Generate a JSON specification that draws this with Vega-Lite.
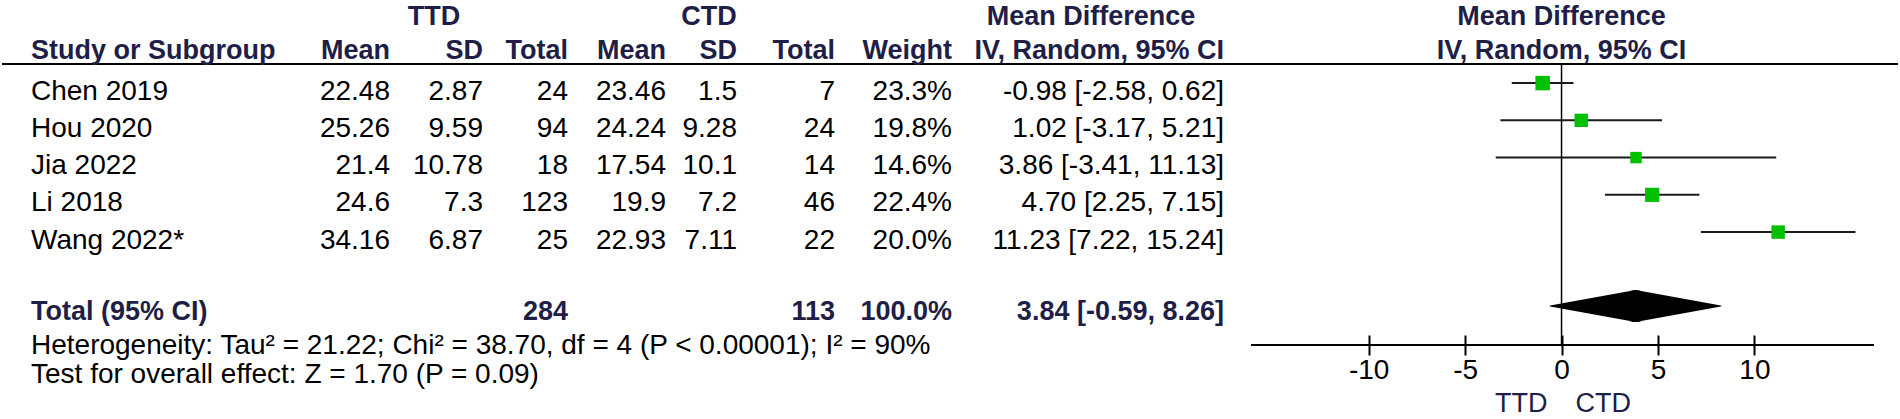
{
"$schema":"https://vega.github.io/schema/vega-lite/v6.json",
"width":1900,"height":345,
"autosize":{"type":"none"},
"padding":{"left":0,"top":0,"right":0,"bottom":74},
"background":"white",
"config":{"view":{"stroke":null},"font":"Liberation Sans","text":{"fontSize":28,"color":"#000"}},
"datasets":{
"studies":[
{"study":"Chen 2019","row":1,"tm":22.48,"tsd":2.87,"tn":24,"cm":23.46,"csd":1.5,"cn":7,"w":0.233,"md":-0.98,"lo":-2.58,"hi":0.62,"ci":"-0.98 [-2.58, 0.62]"},
{"study":"Hou 2020","row":2,"tm":25.26,"tsd":9.59,"tn":94,"cm":24.24,"csd":9.28,"cn":24,"w":0.198,"md":1.02,"lo":-3.17,"hi":5.21,"ci":"1.02 [-3.17, 5.21]"},
{"study":"Jia 2022","row":3,"tm":21.4,"tsd":10.78,"tn":18,"cm":17.54,"csd":10.1,"cn":14,"w":0.146,"md":3.86,"lo":-3.41,"hi":11.13,"ci":"3.86 [-3.41, 11.13]"},
{"study":"Li 2018","row":4,"tm":24.6,"tsd":7.3,"tn":123,"cm":19.9,"csd":7.2,"cn":46,"w":0.224,"md":4.70,"lo":2.25,"hi":7.15,"ci":"4.70 [2.25, 7.15]"},
{"study":"Wang 2022*","row":5,"tm":34.16,"tsd":6.87,"tn":25,"cm":22.93,"csd":7.11,"cn":22,"w":0.200,"md":11.23,"lo":7.22,"hi":15.24,"ci":"11.23 [7.22, 15.24]"}
],
"total":[{"label":"Total (95% CI)","row":7,"tn":284,"cn":113,"w":1.0,"md":3.84,"lo":-0.59,"hi":8.26,"ci":"3.84 [-0.59, 8.26]"}],
"colheads":[{"h":"Mean","col":2},{"h":"SD","col":3},{"h":"Total","col":4},{"h":"Mean","col":5},{"h":"SD","col":6},{"h":"Total","col":7},{"h":"Weight","col":8},{"h":"IV, Random, 95% CI","col":9}],
"groupheads":[{"h":"TTD","col":2.5},{"h":"CTD","col":5.5},{"h":"Mean Difference","col":8.5}]
},
"layer":[
{"layer":[
{"data":{"name":"total"},"mark":{"type":"rule","color":"#000","strokeWidth":2},"encoding":{"x":{"datum":0,"type":"quantitative","scale":{"type":"linear","domain":[0,1,2,2.5,3,4,5,5.5,6,7,8,8.5,9,10],"range":[2,31,390,434,483,568,666,709,737,835,952,1091,1224,1898],"zero":false,"nice":false},"axis":null},"x2":{"datum":10},"y":{"datum":0.259,"type":"quantitative","scale":{"domain":[-1.459,7.803],"reverse":true,"zero":false,"nice":false},"axis":null}}},
{"data":{"name":"groupheads"},"mark":{"type":"text","align":"center","fontWeight":"bold","fontSize":27,"color":"#1e1e46"},"encoding":{"x":{"field":"col","type":"quantitative","scale":{"type":"linear","domain":[0,1,2,2.5,3,4,5,5.5,6,7,8,8.5,9,10],"range":[2,31,390,434,483,568,666,709,737,835,952,1091,1224,1898],"zero":false,"nice":false},"axis":null},"y":{"datum":-1,"type":"quantitative","scale":{"domain":[-1.459,7.803],"reverse":true,"zero":false,"nice":false},"axis":null},"text":{"field":"h"}}},
{"data":{"name":"colheads"},"mark":{"type":"text","align":"right","fontWeight":"bold","fontSize":27,"color":"#1e1e46","dy":-3},"encoding":{"x":{"field":"col","type":"quantitative","scale":{"type":"linear","domain":[0,1,2,2.5,3,4,5,5.5,6,7,8,8.5,9,10],"range":[2,31,390,434,483,568,666,709,737,835,952,1091,1224,1898],"zero":false,"nice":false},"axis":null},"y":{"datum":0,"type":"quantitative","scale":{"domain":[-1.459,7.803],"reverse":true,"zero":false,"nice":false},"axis":null},"text":{"field":"h"}}},
{"data":{"name":"total"},"mark":{"type":"text","align":"left","fontWeight":"bold","fontSize":27,"color":"#1e1e46","dy":-3},"encoding":{"x":{"datum":1,"type":"quantitative","scale":{"type":"linear","domain":[0,1,2,2.5,3,4,5,5.5,6,7,8,8.5,9,10],"range":[2,31,390,434,483,568,666,709,737,835,952,1091,1224,1898],"zero":false,"nice":false},"axis":null},"y":{"datum":0,"type":"quantitative","scale":{"domain":[-1.459,7.803],"reverse":true,"zero":false,"nice":false},"axis":null},"text":{"value":"Study or Subgroup"}}},
{"data":{"name":"studies"},"mark":{"type":"text","align":"left"},"encoding":{"x":{"datum":1,"type":"quantitative","scale":{"type":"linear","domain":[0,1,2,2.5,3,4,5,5.5,6,7,8,8.5,9,10],"range":[2,31,390,434,483,568,666,709,737,835,952,1091,1224,1898],"zero":false,"nice":false},"axis":null},"y":{"field":"row","type":"quantitative","scale":{"domain":[-1.459,7.803],"reverse":true,"zero":false,"nice":false},"axis":null},"text":{"field":"study"}}},
{"data":{"name":"studies"},"mark":{"type":"text","align":"right"},"encoding":{"x":{"datum":2,"type":"quantitative","scale":{"type":"linear","domain":[0,1,2,2.5,3,4,5,5.5,6,7,8,8.5,9,10],"range":[2,31,390,434,483,568,666,709,737,835,952,1091,1224,1898],"zero":false,"nice":false},"axis":null},"y":{"field":"row","type":"quantitative","scale":{"domain":[-1.459,7.803],"reverse":true,"zero":false,"nice":false},"axis":null},"text":{"field":"tm","type":"nominal"}}},
{"data":{"name":"studies"},"mark":{"type":"text","align":"right"},"encoding":{"x":{"datum":3,"type":"quantitative","scale":{"type":"linear","domain":[0,1,2,2.5,3,4,5,5.5,6,7,8,8.5,9,10],"range":[2,31,390,434,483,568,666,709,737,835,952,1091,1224,1898],"zero":false,"nice":false},"axis":null},"y":{"field":"row","type":"quantitative","scale":{"domain":[-1.459,7.803],"reverse":true,"zero":false,"nice":false},"axis":null},"text":{"field":"tsd","type":"nominal"}}},
{"data":{"name":"studies"},"mark":{"type":"text","align":"right"},"encoding":{"x":{"datum":4,"type":"quantitative","scale":{"type":"linear","domain":[0,1,2,2.5,3,4,5,5.5,6,7,8,8.5,9,10],"range":[2,31,390,434,483,568,666,709,737,835,952,1091,1224,1898],"zero":false,"nice":false},"axis":null},"y":{"field":"row","type":"quantitative","scale":{"domain":[-1.459,7.803],"reverse":true,"zero":false,"nice":false},"axis":null},"text":{"field":"tn","type":"nominal"}}},
{"data":{"name":"studies"},"mark":{"type":"text","align":"right"},"encoding":{"x":{"datum":5,"type":"quantitative","scale":{"type":"linear","domain":[0,1,2,2.5,3,4,5,5.5,6,7,8,8.5,9,10],"range":[2,31,390,434,483,568,666,709,737,835,952,1091,1224,1898],"zero":false,"nice":false},"axis":null},"y":{"field":"row","type":"quantitative","scale":{"domain":[-1.459,7.803],"reverse":true,"zero":false,"nice":false},"axis":null},"text":{"field":"cm","type":"nominal"}}},
{"data":{"name":"studies"},"mark":{"type":"text","align":"right"},"encoding":{"x":{"datum":6,"type":"quantitative","scale":{"type":"linear","domain":[0,1,2,2.5,3,4,5,5.5,6,7,8,8.5,9,10],"range":[2,31,390,434,483,568,666,709,737,835,952,1091,1224,1898],"zero":false,"nice":false},"axis":null},"y":{"field":"row","type":"quantitative","scale":{"domain":[-1.459,7.803],"reverse":true,"zero":false,"nice":false},"axis":null},"text":{"field":"csd","type":"nominal"}}},
{"data":{"name":"studies"},"mark":{"type":"text","align":"right"},"encoding":{"x":{"datum":7,"type":"quantitative","scale":{"type":"linear","domain":[0,1,2,2.5,3,4,5,5.5,6,7,8,8.5,9,10],"range":[2,31,390,434,483,568,666,709,737,835,952,1091,1224,1898],"zero":false,"nice":false},"axis":null},"y":{"field":"row","type":"quantitative","scale":{"domain":[-1.459,7.803],"reverse":true,"zero":false,"nice":false},"axis":null},"text":{"field":"cn","type":"nominal"}}},
{"data":{"name":"studies"},"mark":{"type":"text","align":"right"},"encoding":{"x":{"datum":8,"type":"quantitative","scale":{"type":"linear","domain":[0,1,2,2.5,3,4,5,5.5,6,7,8,8.5,9,10],"range":[2,31,390,434,483,568,666,709,737,835,952,1091,1224,1898],"zero":false,"nice":false},"axis":null},"y":{"field":"row","type":"quantitative","scale":{"domain":[-1.459,7.803],"reverse":true,"zero":false,"nice":false},"axis":null},"text":{"field":"w","type":"quantitative","format":".1%"}}},
{"data":{"name":"studies"},"mark":{"type":"text","align":"right"},"encoding":{"x":{"datum":9,"type":"quantitative","scale":{"type":"linear","domain":[0,1,2,2.5,3,4,5,5.5,6,7,8,8.5,9,10],"range":[2,31,390,434,483,568,666,709,737,835,952,1091,1224,1898],"zero":false,"nice":false},"axis":null},"y":{"field":"row","type":"quantitative","scale":{"domain":[-1.459,7.803],"reverse":true,"zero":false,"nice":false},"axis":null},"text":{"field":"ci"}}},
{"data":{"name":"total"},"mark":{"type":"text","align":"left","fontWeight":"bold","fontSize":27,"color":"#1e1e46","dy":-3},"encoding":{"x":{"datum":1,"type":"quantitative","scale":{"type":"linear","domain":[0,1,2,2.5,3,4,5,5.5,6,7,8,8.5,9,10],"range":[2,31,390,434,483,568,666,709,737,835,952,1091,1224,1898],"zero":false,"nice":false},"axis":null},"y":{"field":"row","type":"quantitative","scale":{"domain":[-1.459,7.803],"reverse":true,"zero":false,"nice":false},"axis":null},"text":{"field":"label"}}},
{"data":{"name":"total"},"mark":{"type":"text","align":"right","fontWeight":"bold","fontSize":27,"color":"#1e1e46","dy":-3},"encoding":{"x":{"datum":4,"type":"quantitative","scale":{"type":"linear","domain":[0,1,2,2.5,3,4,5,5.5,6,7,8,8.5,9,10],"range":[2,31,390,434,483,568,666,709,737,835,952,1091,1224,1898],"zero":false,"nice":false},"axis":null},"y":{"field":"row","type":"quantitative","scale":{"domain":[-1.459,7.803],"reverse":true,"zero":false,"nice":false},"axis":null},"text":{"field":"tn","type":"nominal"}}},
{"data":{"name":"total"},"mark":{"type":"text","align":"right","fontWeight":"bold","fontSize":27,"color":"#1e1e46","dy":-3},"encoding":{"x":{"datum":7,"type":"quantitative","scale":{"type":"linear","domain":[0,1,2,2.5,3,4,5,5.5,6,7,8,8.5,9,10],"range":[2,31,390,434,483,568,666,709,737,835,952,1091,1224,1898],"zero":false,"nice":false},"axis":null},"y":{"field":"row","type":"quantitative","scale":{"domain":[-1.459,7.803],"reverse":true,"zero":false,"nice":false},"axis":null},"text":{"field":"cn","type":"nominal"}}},
{"data":{"name":"total"},"mark":{"type":"text","align":"right","fontWeight":"bold","fontSize":27,"color":"#1e1e46","dy":-3},"encoding":{"x":{"datum":8,"type":"quantitative","scale":{"type":"linear","domain":[0,1,2,2.5,3,4,5,5.5,6,7,8,8.5,9,10],"range":[2,31,390,434,483,568,666,709,737,835,952,1091,1224,1898],"zero":false,"nice":false},"axis":null},"y":{"field":"row","type":"quantitative","scale":{"domain":[-1.459,7.803],"reverse":true,"zero":false,"nice":false},"axis":null},"text":{"field":"w","type":"quantitative","format":".1%"}}},
{"data":{"name":"total"},"mark":{"type":"text","align":"right","fontWeight":"bold","fontSize":27,"color":"#1e1e46","dy":-3},"encoding":{"x":{"datum":9,"type":"quantitative","scale":{"type":"linear","domain":[0,1,2,2.5,3,4,5,5.5,6,7,8,8.5,9,10],"range":[2,31,390,434,483,568,666,709,737,835,952,1091,1224,1898],"zero":false,"nice":false},"axis":null},"y":{"field":"row","type":"quantitative","scale":{"domain":[-1.459,7.803],"reverse":true,"zero":false,"nice":false},"axis":null},"text":{"field":"ci"}}},
{"data":{"name":"total"},"mark":{"type":"text","align":"left","dy":-6},"encoding":{"x":{"datum":1,"type":"quantitative","scale":{"type":"linear","domain":[0,1,2,2.5,3,4,5,5.5,6,7,8,8.5,9,10],"range":[2,31,390,434,483,568,666,709,737,835,952,1091,1224,1898],"zero":false,"nice":false},"axis":null},"y":{"datum":8,"type":"quantitative","scale":{"domain":[-1.459,7.803],"reverse":true,"zero":false,"nice":false},"axis":null},"text":{"value":"Heterogeneity: Tau² = 21.22; Chi² = 38.70, df = 4 (P < 0.00001); I² = 90%"}}},
{"data":{"name":"total"},"mark":{"type":"text","align":"left","dy":-15},"encoding":{"x":{"datum":1,"type":"quantitative","scale":{"type":"linear","domain":[0,1,2,2.5,3,4,5,5.5,6,7,8,8.5,9,10],"range":[2,31,390,434,483,568,666,709,737,835,952,1091,1224,1898],"zero":false,"nice":false},"axis":null},"y":{"datum":9,"type":"quantitative","scale":{"domain":[-1.459,7.803],"reverse":true,"zero":false,"nice":false},"axis":null},"text":{"value":"Test for overall effect: Z = 1.70 (P = 0.09)"}}}
]},
{"layer":[
{"data":{"name":"total"},"mark":{"type":"text","align":"center","fontWeight":"bold","fontSize":27,"color":"#1e1e46"},"encoding":{"x":{"datum":0,"type":"quantitative","scale":{"domain":[-16.1,16.2],"range":[1251,1874],"zero":false,"nice":false},"axis":{"values":[-10,-5,0,5,10],"labelExpr":"'' + datum.value","offset":-10,"tickSize":20,"tickWidth":2,"tickColor":"#000","domain":false,"grid":false,"labelFont":"Liberation Sans","labelFontSize":28,"labelColor":"#000","labelPadding":1,"title":null,"labelFlush":false,"labelOverlap":false}},"y":{"datum":-1,"type":"quantitative","scale":{"domain":[-1.459,7.803],"reverse":true,"zero":false,"nice":false},"axis":null},"text":{"value":"Mean Difference"}}},
{"data":{"name":"total"},"mark":{"type":"text","align":"center","fontWeight":"bold","fontSize":27,"color":"#1e1e46","dy":-3},"encoding":{"x":{"datum":0,"type":"quantitative","scale":{"domain":[-16.1,16.2],"range":[1251,1874],"zero":false,"nice":false},"axis":{"values":[-10,-5,0,5,10],"labelExpr":"'' + datum.value","offset":-10,"tickSize":20,"tickWidth":2,"tickColor":"#000","domain":false,"grid":false,"labelFont":"Liberation Sans","labelFontSize":28,"labelColor":"#000","labelPadding":1,"title":null,"labelFlush":false,"labelOverlap":false}},"y":{"datum":0,"type":"quantitative","scale":{"domain":[-1.459,7.803],"reverse":true,"zero":false,"nice":false},"axis":null},"text":{"value":"IV, Random, 95% CI"}}},
{"data":{"name":"total"},"mark":{"type":"rule","color":"#000","strokeWidth":1.5},"encoding":{"x":{"datum":0,"type":"quantitative","scale":{"domain":[-16.1,16.2],"range":[1251,1874],"zero":false,"nice":false},"axis":{"values":[-10,-5,0,5,10],"labelExpr":"'' + datum.value","offset":-10,"tickSize":20,"tickWidth":2,"tickColor":"#000","domain":false,"grid":false,"labelFont":"Liberation Sans","labelFontSize":28,"labelColor":"#000","labelPadding":1,"title":null,"labelFlush":false,"labelOverlap":false}},"y":{"datum":0.259,"type":"quantitative","scale":{"domain":[-1.459,7.803],"reverse":true,"zero":false,"nice":false},"axis":null},"y2":{"datum":7.803}}},
{"data":{"name":"total"},"mark":{"type":"rule","color":"#000","strokeWidth":2},"encoding":{"x":{"datum":-16.1,"type":"quantitative","scale":{"domain":[-16.1,16.2],"range":[1251,1874],"zero":false,"nice":false},"axis":{"values":[-10,-5,0,5,10],"labelExpr":"'' + datum.value","offset":-10,"tickSize":20,"tickWidth":2,"tickColor":"#000","domain":false,"grid":false,"labelFont":"Liberation Sans","labelFontSize":28,"labelColor":"#000","labelPadding":1,"title":null,"labelFlush":false,"labelOverlap":false}},"x2":{"datum":16.2},"y":{"datum":7.803,"type":"quantitative","scale":{"domain":[-1.459,7.803],"reverse":true,"zero":false,"nice":false},"axis":null}}},
{"data":{"name":"studies"},"mark":{"type":"rule","color":"#1a1a1a","strokeWidth":2,"yOffset":-8.5},"encoding":{"x":{"field":"lo","type":"quantitative","scale":{"domain":[-16.1,16.2],"range":[1251,1874],"zero":false,"nice":false},"axis":{"values":[-10,-5,0,5,10],"labelExpr":"'' + datum.value","offset":-10,"tickSize":20,"tickWidth":2,"tickColor":"#000","domain":false,"grid":false,"labelFont":"Liberation Sans","labelFontSize":28,"labelColor":"#000","labelPadding":1,"title":null,"labelFlush":false,"labelOverlap":false}},"x2":{"field":"hi"},"y":{"field":"row","type":"quantitative","scale":{"domain":[-1.459,7.803],"reverse":true,"zero":false,"nice":false},"axis":null}}},
{"data":{"name":"studies"},"mark":{"type":"point","shape":"square","filled":true,"opacity":1,"color":"#00c000","yOffset":-8.5},"encoding":{"x":{"field":"md","type":"quantitative","scale":{"domain":[-16.1,16.2],"range":[1251,1874],"zero":false,"nice":false},"axis":{"values":[-10,-5,0,5,10],"labelExpr":"'' + datum.value","offset":-10,"tickSize":20,"tickWidth":2,"tickColor":"#000","domain":false,"grid":false,"labelFont":"Liberation Sans","labelFontSize":28,"labelColor":"#000","labelPadding":1,"title":null,"labelFlush":false,"labelOverlap":false}},"y":{"field":"row","type":"quantitative","scale":{"domain":[-1.459,7.803],"reverse":true,"zero":false,"nice":false},"axis":null},"size":{"field":"w","type":"quantitative","scale":{"domain":[0,0.25],"range":[0,225]},"legend":null}}},
{"data":{"name":"total"},"transform":[{"fold":["lo","md","hi"],"as":["bound","value"]}],"mark":{"type":"trail","color":"#000","yOffset":-9},"encoding":{"x":{"field":"value","type":"quantitative","scale":{"domain":[-16.1,16.2],"range":[1251,1874],"zero":false,"nice":false},"axis":{"values":[-10,-5,0,5,10],"labelExpr":"'' + datum.value","offset":-10,"tickSize":20,"tickWidth":2,"tickColor":"#000","domain":false,"grid":false,"labelFont":"Liberation Sans","labelFontSize":28,"labelColor":"#000","labelPadding":1,"title":null,"labelFlush":false,"labelOverlap":false}},"y":{"field":"row","type":"quantitative","scale":{"domain":[-1.459,7.803],"reverse":true,"zero":false,"nice":false},"axis":null},"size":{"condition":{"test":"datum.bound === 'md'","value":32},"value":0},"order":{"field":"value","type":"quantitative"}}},
{"data":{"name":"total"},"mark":{"type":"text","align":"right","dx":-14,"fontSize":27,"color":"#1e1e46"},"encoding":{"x":{"datum":0,"type":"quantitative","scale":{"domain":[-16.1,16.2],"range":[1251,1874],"zero":false,"nice":false},"axis":{"values":[-10,-5,0,5,10],"labelExpr":"'' + datum.value","offset":-10,"tickSize":20,"tickWidth":2,"tickColor":"#000","domain":false,"grid":false,"labelFont":"Liberation Sans","labelFontSize":28,"labelColor":"#000","labelPadding":1,"title":null,"labelFlush":false,"labelOverlap":false}},"y":{"datum":9.387,"type":"quantitative","scale":{"domain":[-1.459,7.803],"reverse":true,"zero":false,"nice":false},"axis":null},"text":{"value":"TTD"}}},
{"data":{"name":"total"},"mark":{"type":"text","align":"left","dx":14,"fontSize":27,"color":"#1e1e46"},"encoding":{"x":{"datum":0,"type":"quantitative","scale":{"domain":[-16.1,16.2],"range":[1251,1874],"zero":false,"nice":false},"axis":{"values":[-10,-5,0,5,10],"labelExpr":"'' + datum.value","offset":-10,"tickSize":20,"tickWidth":2,"tickColor":"#000","domain":false,"grid":false,"labelFont":"Liberation Sans","labelFontSize":28,"labelColor":"#000","labelPadding":1,"title":null,"labelFlush":false,"labelOverlap":false}},"y":{"datum":9.387,"type":"quantitative","scale":{"domain":[-1.459,7.803],"reverse":true,"zero":false,"nice":false},"axis":null},"text":{"value":"CTD"}}}
]}
],
"resolve":{"scale":{"x":"independent"},"axis":{"x":"independent"}}
}
